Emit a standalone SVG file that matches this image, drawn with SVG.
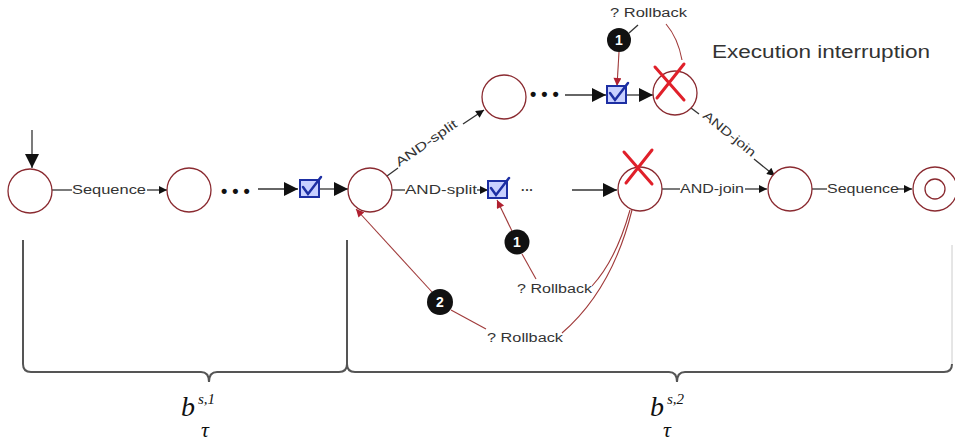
<svg xmlns="http://www.w3.org/2000/svg" width="955" height="442" viewBox="0 0 955 442">
<style>
.node{fill:#fff;stroke:#8a2a30;stroke-width:1.3}
.ln{stroke:#333;stroke-width:1.3;fill:none}
.rl{stroke:#a03a3a;stroke-width:1.1;fill:none}
.lbl{font-family:"Liberation Sans",Arial,sans-serif;font-size:12.5px;fill:#333}
.dots{font-family:"Liberation Sans",Arial,sans-serif;font-size:18px;fill:#111;font-weight:bold}
.bc{fill:#111}
.bn{font-family:"Liberation Sans",Arial,sans-serif;font-size:14px;font-weight:bold;fill:#fff;text-anchor:middle}
.x{stroke:#e0202a;stroke-width:3;stroke-linecap:round}
.cbr{fill:#c8d0ff;stroke:#1d2fa3;stroke-width:2}
.cbk{fill:none;stroke:#1d2fa3;stroke-width:2.5;stroke-linecap:round}
.brace{fill:none;stroke:#555;stroke-width:2}
.math{font-family:"Liberation Serif","Times New Roman",serif;font-style:italic;fill:#111}
</style>
<defs>
<marker id="ah" viewBox="0 0 10 10" refX="10" refY="5" markerWidth="14" markerHeight="10" markerUnits="userSpaceOnUse" orient="auto"><path d="M0,0L10,5L0,10z" fill="#111"/></marker>
<marker id="ahs" viewBox="0 0 10 10" refX="10" refY="5" markerWidth="12" markerHeight="8" markerUnits="userSpaceOnUse" orient="auto"><path d="M0,0L10,5L0,10z" fill="#111"/></marker>
<marker id="ahr" viewBox="0 0 10 10" refX="10" refY="5" markerWidth="11" markerHeight="8" markerUnits="userSpaceOnUse" orient="auto"><path d="M0,0L10,5L0,10z" fill="#b02030"/></marker>
<marker id="ahb" viewBox="0 0 10 10" refX="10" refY="5" markerWidth="20" markerHeight="14" markerUnits="userSpaceOnUse" orient="auto"><path d="M0,0L10,5L0,10z" fill="#111"/></marker>
</defs>

<g id="connectors">
  <line class="ln" x1="32" y1="130" x2="32" y2="168" marker-end="url(#ahb)"/>
  <line class="ln" x1="52" y1="190" x2="72" y2="190"/>
  <text class="lbl" x="72" y="194" textLength="74" lengthAdjust="spacingAndGlyphs">Sequence</text>
  <line class="ln" x1="147" y1="190" x2="167" y2="190" marker-end="url(#ahs)"/>
  <text class="dots" x="221" y="197">• • •</text>
  <line class="ln" x1="258" y1="189" x2="298" y2="189" marker-end="url(#ahb)"/>
  <line class="ln" x1="320" y1="189" x2="348" y2="189" marker-end="url(#ahb)"/>
  <line class="ln" x1="387" y1="176" x2="398" y2="168"/>
  <text class="lbl" transform="translate(399,167) rotate(-34.6)" textLength="72" lengthAdjust="spacingAndGlyphs">AND-split</text>
  <line class="ln" x1="463" y1="124" x2="484" y2="110" marker-end="url(#ahs)"/>
  <text class="dots" x="530" y="100">• • •</text>
  <line class="ln" x1="565" y1="95" x2="606" y2="95" marker-end="url(#ahb)"/>
  <line class="ln" x1="627" y1="95" x2="653" y2="95" marker-end="url(#ahb)"/>
  <line class="ln" x1="691" y1="108" x2="699" y2="114"/>
  <text class="lbl" transform="translate(702,117) rotate(39)" textLength="64" lengthAdjust="spacingAndGlyphs">AND-join</text>
  <line class="ln" x1="754" y1="159" x2="775" y2="176" marker-end="url(#ahs)"/>
  <line class="ln" x1="392" y1="190" x2="405" y2="190"/>
  <text class="lbl" x="405" y="194" textLength="72" lengthAdjust="spacingAndGlyphs">AND-split</text>
  <line class="ln" x1="477" y1="190" x2="488" y2="190" marker-end="url(#ahs)"/>
  <text class="lbl" x="521" y="194" font-weight="bold">···</text>
  <line class="ln" x1="572" y1="190" x2="617" y2="190" marker-end="url(#ahb)"/>
  <line class="ln" x1="662" y1="189" x2="680" y2="189"/>
  <text class="lbl" x="680" y="193" textLength="64" lengthAdjust="spacingAndGlyphs">AND-join</text>
  <line class="ln" x1="745" y1="189" x2="767" y2="189" marker-end="url(#ahs)"/>
  <line class="ln" x1="812" y1="189" x2="827" y2="189"/>
  <text class="lbl" x="827" y="193" textLength="72" lengthAdjust="spacingAndGlyphs">Sequence</text>
  <line class="ln" x1="897" y1="189" x2="912" y2="189" marker-end="url(#ahs)"/>

  <line class="rl" x1="619" y1="52" x2="617" y2="86" marker-end="url(#ahr)"/>
  <line class="ln" x1="629" y1="33" x2="638" y2="25" stroke-width="1"/>
  <path class="rl" d="M666,24 Q678,38 682,60"/>
  <line class="rl" x1="512" y1="231" x2="497" y2="200" marker-end="url(#ahr)"/>
  <line class="rl" x1="522" y1="254" x2="536" y2="279" stroke="#555"/>
  <path class="rl" d="M592,286 Q616,260 630,210"/>
  <line class="rl" x1="432" y1="292" x2="356" y2="209" marker-end="url(#ahr)"/>
  <line class="rl" x1="451" y1="310" x2="486" y2="329" stroke="#555"/>
  <path class="rl" d="M562,333 Q612,290 632,210"/>
</g>

<g id="n1"><circle class="node" cx="30" cy="191" r="22"/></g>
<g id="n2"><circle class="node" cx="189" cy="190" r="22"/></g>
<g id="cb1"><rect class="cbr" x="300" y="180" width="19" height="17"/><path class="cbk" d="M303,187 L308,194 L321,177"/></g>
<g id="n3"><circle class="node" cx="370" cy="190" r="22"/></g>
<g id="n4"><circle class="node" cx="504" cy="97" r="22"/></g>
<g id="cb2"><rect class="cbr" x="607" y="86" width="19" height="17"/><path class="cbk" d="M610,93 L615,100 L628,83"/></g>
<g id="n5"><circle class="node" cx="675" cy="93" r="22"/><line class="x" x1="655" y1="67" x2="684" y2="100"/><line class="x" x1="684" y1="64" x2="657" y2="98"/></g>
<g id="cb3"><rect class="cbr" x="488" y="181" width="19" height="17"/><path class="cbk" d="M491,188 L496,195 L509,178"/></g>
<g id="n6"><circle class="node" cx="640" cy="189" r="22"/><line class="x" x1="624" y1="152" x2="652" y2="184"/><line class="x" x1="652" y1="150" x2="626" y2="183"/></g>
<g id="n7"><circle class="node" cx="790" cy="189" r="22"/></g>
<g id="n8"><circle class="node" cx="935" cy="189" r="22"/><circle class="node" cx="935" cy="189" r="10"/></g>

<g id="rollback-top">
  <text class="lbl" x="610" y="17" textLength="77" lengthAdjust="spacingAndGlyphs">? Rollback</text>
  <circle class="bc" cx="619" cy="40" r="12"/><text class="bn" x="619" y="45">1</text>
</g>
<g id="rollback-mid">
  <circle class="bc" cx="517" cy="242" r="12.5"/><text class="bn" x="517" y="247">1</text>
  <text class="lbl" x="517" y="293" textLength="75" lengthAdjust="spacingAndGlyphs">? Rollback</text>
</g>
<g id="rollback-low">
  <circle class="bc" cx="440" cy="302" r="13"/><text class="bn" x="440" y="307">2</text>
  <text class="lbl" x="487" y="342" textLength="76" lengthAdjust="spacingAndGlyphs">? Rollback</text>
</g>
<text x="712" y="58" font-family="Liberation Sans,Arial,sans-serif" font-size="18" fill="#333" textLength="218" lengthAdjust="spacingAndGlyphs">Execution interruption</text>

<g id="brace1">
  <path class="brace" d="M23,240 V364 Q23,372 31,372 H201 Q209,372 209,382 Q209,372 217,372 H339 Q347,372 347,364 V240"/>
  <text class="math" x="181" y="416" font-size="28">b</text>
  <text class="math" x="198" y="404" font-size="15" font-style="normal">s,1</text>
  <text class="math" x="201" y="437" font-size="22">τ</text>
</g>
<g id="brace2">
  <path class="brace" d="M347,364 Q347,372 355,372 H669 Q677,372 677,382 Q677,372 685,372 H944 Q952,372 952,364"/>
  <path d="M952,364 V245" stroke="#ccc" stroke-width="1" fill="none"/>
  <text class="math" x="650" y="416" font-size="28">b</text>
  <text class="math" x="667" y="404" font-size="15" font-style="normal">s,2</text>
  <text class="math" x="663" y="437" font-size="22">τ</text>
</g>
</svg>
